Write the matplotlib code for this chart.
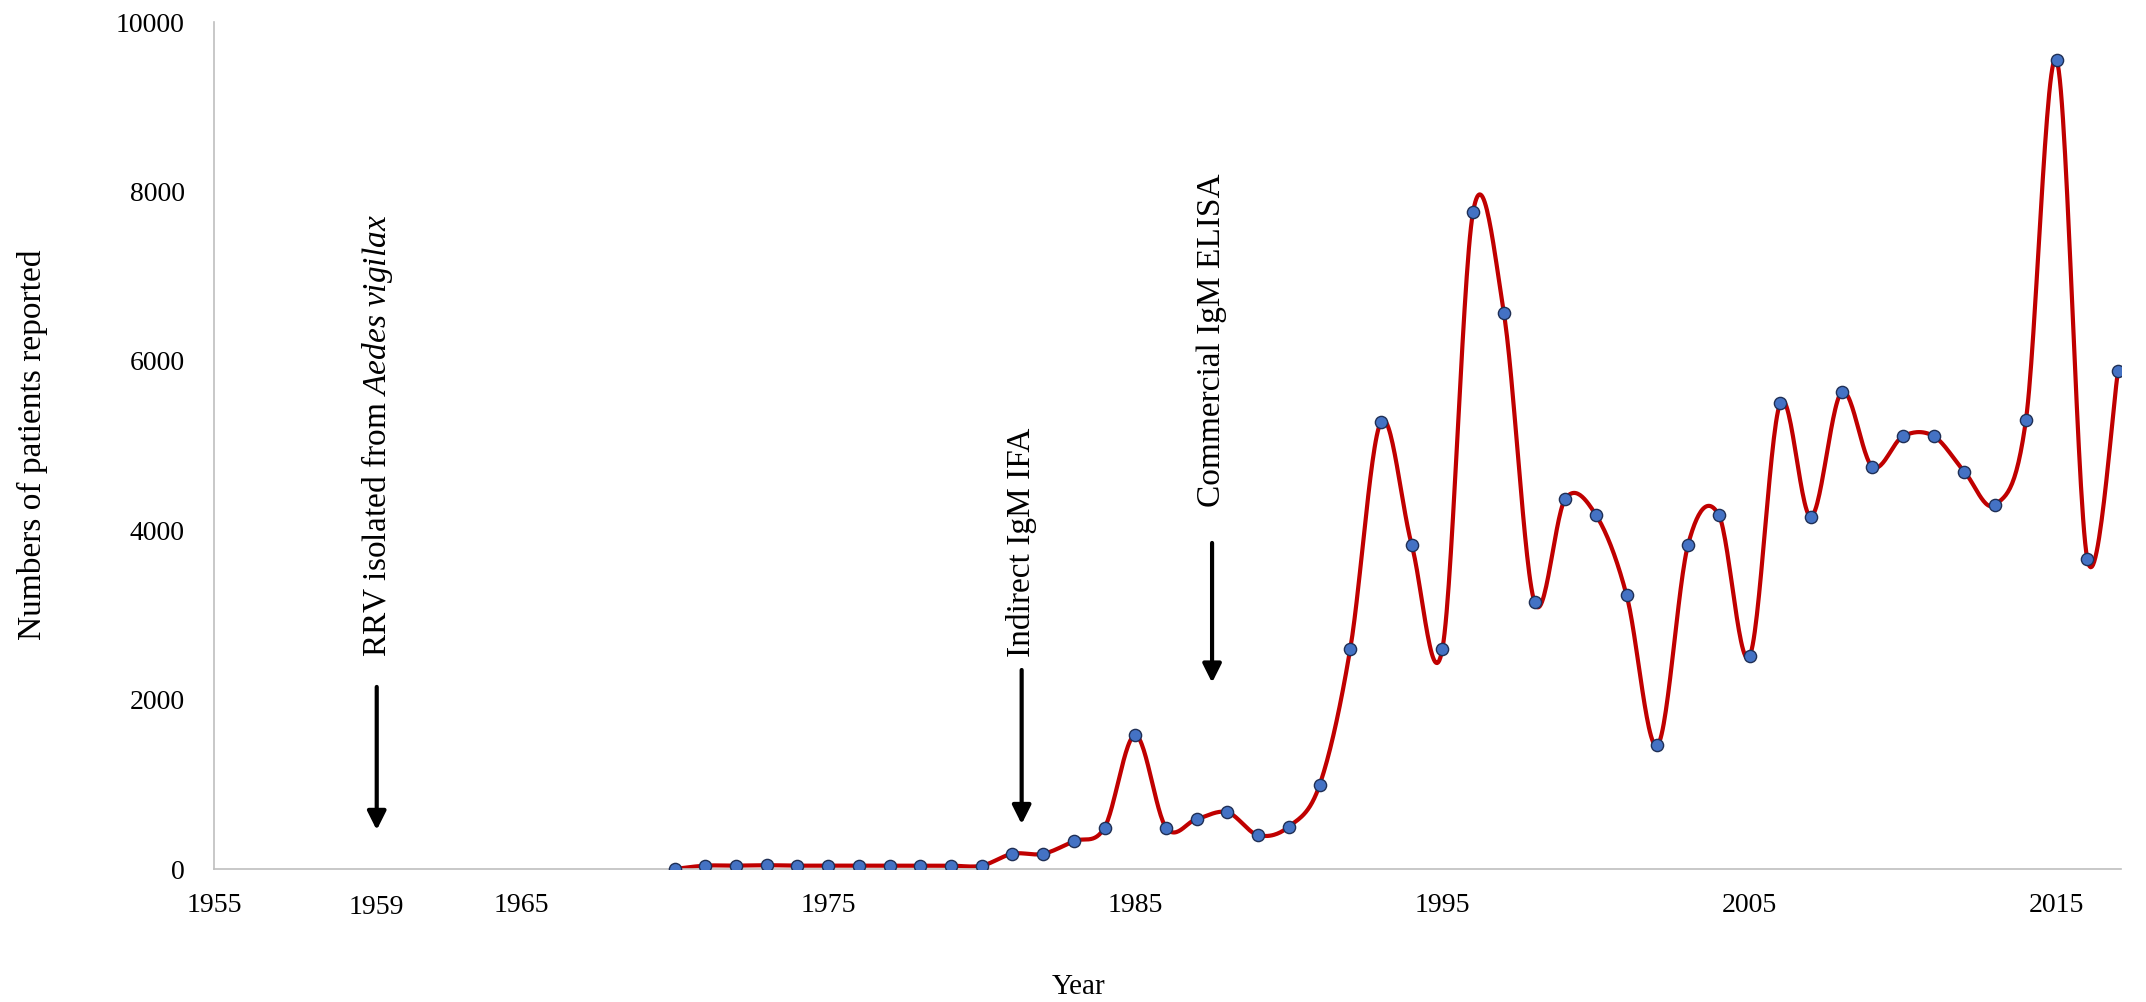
import numpy as np
import matplotlib
matplotlib.use("Agg")
import matplotlib.pyplot as plt
import matplotlib.transforms as mtransforms

years = list(range(1970, 2018))
cases = [0, 40, 40, 45, 40, 40, 40, 40, 40, 40, 40,
         180, 180, 330, 490, 1580, 490, 590, 670, 400, 500,
         990, 2600, 5280, 3830, 2600, 7760, 6570, 3150, 4370, 4180,
         3230, 1460, 3830, 4180, 2510, 5500, 4160, 5630, 4750, 5110,
         5110, 4690, 4300, 5300, 9550, 3660, 5880]

xtick_years = [1955, 1965, 1975, 1985, 1995, 2005, 2015]
ytick_vals = [0, 2000, 4000, 6000, 8000, 10000]

events = [
    {"x": 1960.3, "text_y": 2500, "arrow_from": 2150, "arrow_to": 460},
    {"x": 1981.3, "text_y": 2500, "arrow_from": 2350, "arrow_to": 530},
    {"x": 1987.5, "text_y": 4280, "arrow_from": 3850, "arrow_to": 2200},
]
event_labels = [r"RRV isolated from $\it{Aedes\ vigilax}$", "Indirect IgM IFA", "Commercial IgM ELISA"]
extra_label = "1959"


def smooth_curve(xs, ys, n=30):
    xs = np.asarray(xs, float)
    ys = np.asarray(ys, float)
    P = np.column_stack([xs, ys])
    P = np.vstack([P[0], P, P[-1]])
    out = []
    t = np.linspace(0, 1, n)
    for i in range(1, len(P) - 2):
        p0, p1, p2, p3 = P[i - 1], P[i], P[i + 1], P[i + 2]
        c1 = p1 + (p2 - p0) / 6.0
        c2 = p2 - (p3 - p1) / 6.0
        seg = ((1 - t) ** 3)[:, None] * p1 + (3 * (1 - t) ** 2 * t)[:, None] * c1 \
            + (3 * (1 - t) * t ** 2)[:, None] * c2 + (t ** 3)[:, None] * p2
        out.append(seg if i == 1 else seg[1:])
    out = np.vstack(out)
    return out[:, 0], out[:, 1]


plt.rcParams['font.family'] = ['Liberation Serif', 'DejaVu Serif']
plt.rcParams['mathtext.fontset'] = 'custom'
plt.rcParams['mathtext.rm'] = 'Liberation Serif'
plt.rcParams['mathtext.it'] = 'Liberation Serif:italic'

fig = plt.figure(figsize=(21.46, 10.02), dpi=100)
ax = fig.add_axes([0.0997, 0.1327, 0.8887, 0.8453])

sx, sy = smooth_curve(years, cases)
ax.plot(sx, sy, color='#C00000', lw=3.0, solid_capstyle='round', zorder=2)
ax.plot(years, cases, linestyle='none', marker='o', markersize=8.8,
        markerfacecolor='#4472C4', markeredgecolor='#1F2F55', markeredgewidth=1.0, zorder=3)

ax.set_xlim(1955, 2017.1)
ax.set_ylim(0, 10000)
ax.set_xticks(xtick_years)
ax.set_xticklabels([str(y) for y in xtick_years])
ax.set_yticks(ytick_vals)
ax.set_yticklabels([str(v) for v in ytick_vals])
ax.tick_params(axis='both', length=0, labelsize=20)
ax.tick_params(axis='y', pad=21)
ax.tick_params(axis='x', pad=17)

for s in ['top', 'right']:
    ax.spines[s].set_visible(False)
for s in ['left', 'bottom']:
    ax.spines[s].set_color('#BFBFBF')
    ax.spines[s].set_linewidth(1.2)

for ev, lab in zip(events, event_labels):
    ax.annotate('', xy=(ev["x"], ev["arrow_to"]), xytext=(ev["x"], ev["arrow_from"]),
                arrowprops=dict(arrowstyle='-|>', color='black', lw=3, mutation_scale=28,
                                shrinkA=0, shrinkB=0), zorder=4)
    ax.text(ev["x"], ev["text_y"], lab, rotation=90, ha='center', va='bottom',
            fontsize=24, color='black')

trans = mtransforms.blended_transform_factory(ax.transData, fig.transFigure)
ax.text(events[0]["x"], 1 - 907 / 1002, extra_label, transform=trans, ha='center', va='center',
        fontsize=20)

fig.text(1079 / 2146, 1 - 987 / 1002, "Year", ha='center', va='center', fontsize=21)
fig.text(32 / 2146, 1 - 445 / 1002, "Numbers of patients reported", ha='center', va='center',
         rotation=90, fontsize=24)

fig.savefig("out.png", dpi=100, facecolor='white')
